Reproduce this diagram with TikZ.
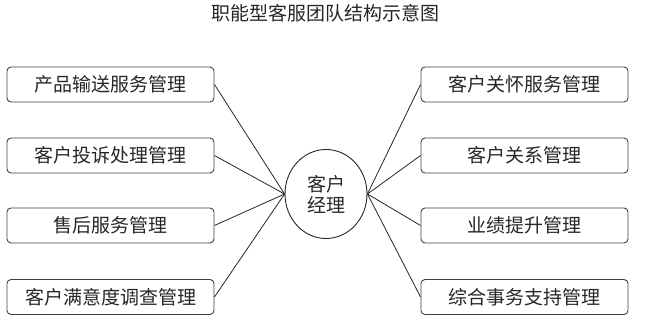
\documentclass[tikz,border=0pt]{standalone}
\usepackage{fontspec}
\setmainfont{Noto Sans CJK SC}
\usetikzlibrary{shapes.geometric}
\begin{document}
\begin{tikzpicture}[x=1pt,y=-1pt,
  box/.style={draw=black!75, line width=0.9pt, rounded corners=4pt, minimum width=207pt, minimum height=35pt, inner sep=0pt, font=\fontsize{19}{21}\selectfont, text=black!85},
  hub/.style={draw=black!85, line width=0.9pt, ellipse, minimum width=82pt, minimum height=89pt, inner sep=0pt, align=center, font=\fontsize{19}{21}\selectfont, text=black!85},
  link/.style={draw=black!85, line width=0.8pt}]
\useasboundingbox (0,0) rectangle (650,328);
\node[font=\fontsize{19}{21}\selectfont, text=black!85] (title) at (325,13) {职能型客服团队结构示意图};
\node[box] (l1) at (110.5,84.5) {产品输送服务管理};
\node[box] (l2) at (110.5,155.5) {客户投诉处理管理};
\node[box] (l3) at (110.5,225.5) {售后服务管理};
\node[box] (l4) at (110.5,297) {客户满意度调查管理};
\node[box] (r1) at (524.5,84.5) {客户关怀服务管理};
\node[box] (r2) at (524.5,155.5) {客户关系管理};
\node[box] (r3) at (524.5,225.5) {业绩提升管理};
\node[box] (r4) at (524.5,297) {综合事务支持管理};
\node[hub] (c) at (326,194) {客户\\经理};
\foreach \n in {l1,l2,l3,l4} \draw[link] (\n.east) -- (c.west);
\foreach \n in {r1,r2,r3,r4} \draw[link] (\n.west) -- (c.east);
\end{tikzpicture}
\end{document}
